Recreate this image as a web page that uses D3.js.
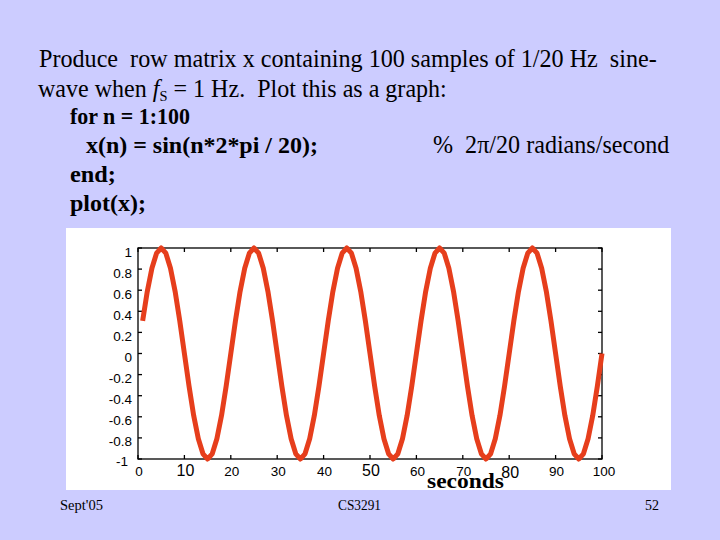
<!DOCTYPE html>
<html><head><meta charset="utf-8">
<script src="https://cdn.jsdelivr.net/npm/d3@7"></script>
<style>
html,body{margin:0;padding:0;background:#CCCCFF;}
svg{display:block;}
text{white-space:pre;}
</style></head>
<body>
<svg id="c" width="720" height="540"></svg>
<script>
// ---- data ----
const samples = d3.range(1, 101); // n = 1 .. 100
const xValues = [
 0.309, 0.588, 0.809, 0.951, 1.000, 0.951, 0.809, 0.588, 0.309, 0.000,
-0.309,-0.588,-0.809,-0.951,-1.000,-0.951,-0.809,-0.588,-0.309, 0.000,
 0.309, 0.588, 0.809, 0.951, 1.000, 0.951, 0.809, 0.588, 0.309, 0.000,
-0.309,-0.588,-0.809,-0.951,-1.000,-0.951,-0.809,-0.588,-0.309, 0.000,
 0.309, 0.588, 0.809, 0.951, 1.000, 0.951, 0.809, 0.588, 0.309, 0.000,
-0.309,-0.588,-0.809,-0.951,-1.000,-0.951,-0.809,-0.588,-0.309, 0.000,
 0.309, 0.588, 0.809, 0.951, 1.000, 0.951, 0.809, 0.588, 0.309, 0.000,
-0.309,-0.588,-0.809,-0.951,-1.000,-0.951,-0.809,-0.588,-0.309, 0.000,
 0.309, 0.588, 0.809, 0.951, 1.000, 0.951, 0.809, 0.588, 0.309, 0.000,
-0.309,-0.588,-0.809,-0.951,-1.000,-0.951,-0.809,-0.588,-0.309, 0.000
];
const xTicks = [0,10,20,30,40,50,60,70,80,90,100];
const xTickLabels = ["0","10","20","30","40","50","60","70","80","90","100"];
const yTicks = [1,0.8,0.6,0.4,0.2,0,-0.2,-0.4,-0.6,-0.8,-1];
const yTickLabels = ["1","0.8","0.6","0.4","0.2","0","-0.2","-0.4","-0.6","-0.8","-1"];
const bigXLabels = ["10","50","80"];

const svg = d3.select("#c");

// stretch a text horizontally so it spans [x0, x1]
function fit(sel, x0, x1) {
  const w = sel.node().getBBox().width;
  const s = (x1 - x0) / w;
  sel.attr("transform", `translate(${x0},0) scale(${s},1) translate(${-x0},0)`);
  return sel;
}

// ---- slide text ----
const serif = "'Liberation Serif','Times New Roman',serif";
const t = svg.append("g").attr("font-family", serif).attr("fill", "#000");
function line(txt, x0, x1, yb, bold, fs) {
  const s = t.append("text").attr("x", x0).attr("y", yb).attr("font-size", fs)
    .attr("font-weight", bold ? "bold" : "normal").text(txt);
  return fit(s, x0, x1);
}
line("Produce  row matrix x containing 100 samples of 1/20 Hz  sine-", 39, 657, 67, false, 25);
const l2 = t.append("text").attr("x", 38).attr("y", 97).attr("font-size", 25);
l2.append("tspan").text("wave when ");
l2.append("tspan").attr("font-style", "italic").text("f");
l2.append("tspan").attr("font-size", 15).attr("dy", 4).text("S");
l2.append("tspan").attr("dy", -4).text(" = 1 Hz.  Plot this as a graph:");
fit(l2, 38, 447);
line("for n = 1:100", 70, 190, 124.5, true, 24);
line("x(n) = sin(n*2*pi / 20);", 86, 318, 153, true, 24);
line("%  2\u03C0/20 radians/second", 433, 670, 153, false, 25);
line("end;", 70, 116, 182, true, 24);
line("plot(x);", 70, 146, 211, true, 24);

// footer
fit(t.append("text").attr("x", 60).attr("y", 510).attr("font-size", 15).text("Sept'05"), 60, 103);
fit(t.append("text").attr("x", 338).attr("y", 510).attr("font-size", 15).text("CS3291"), 338, 381);
fit(t.append("text").attr("x", 645).attr("y", 510).attr("font-size", 15).text("52"), 645, 659);

// ---- plot panel ----
svg.append("rect").attr("x", 66).attr("y", 228).attr("width", 605).attr("height", 262).attr("fill", "#fff");

const L = 138, R = 602, T = 248, B = 459;
const x = d3.scaleLinear().domain([0, 100]).range([L, R]);
const y = d3.scaleLinear().domain([-1, 1]).range([B, T]);

const sans = "'Liberation Sans',Arial,sans-serif";

// box + inward ticks
const ax = svg.append("g").attr("stroke", "#000").attr("stroke-width", 1.3);
ax.append("rect").attr("x", L).attr("y", T).attr("width", R - L).attr("height", B - T).attr("fill", "none");
ax.selectAll(".tb").data(xTicks).join("line")
  .attr("x1", d => x(d)).attr("x2", d => x(d)).attr("y1", B).attr("y2", B - 4);
ax.selectAll(".tt").data(xTicks).join("line")
  .attr("x1", d => x(d)).attr("x2", d => x(d)).attr("y1", T).attr("y2", T + 4);
ax.selectAll(".tl").data(yTicks).join("line")
  .attr("x1", L).attr("x2", L + 4).attr("y1", d => y(d)).attr("y2", d => y(d));
ax.selectAll(".tr").data(yTicks).join("line")
  .attr("x1", R).attr("x2", R - 4).attr("y1", d => y(d)).attr("y2", d => y(d));

// y tick labels
svg.append("g").attr("font-family", sans).attr("font-size", 13.5).attr("text-anchor", "end")
  .selectAll("text").data(yTicks).join("text")
  .attr("x", d => d === -1 ? L - 10 : L - 6)
  .attr("y", d => y(d) + (d === -1 ? 7 : 8.5))
  .text((d, i) => yTickLabels[i]);

// x tick labels
svg.append("g").attr("font-family", sans).attr("text-anchor", "middle")
  .selectAll("text").data(xTicks).join("text")
  .attr("x", d => x(d) + (d === 100 ? 2 : 1))
  .attr("y", (d, i) => xTickLabels[i] === "80" ? 478 : 476)
  .attr("font-size", (d, i) => bigXLabels.includes(xTickLabels[i]) ? 16 : 13.5)
  .text((d, i) => xTickLabels[i]);

// x axis title
fit(svg.append("text").attr("x", 427).attr("y", 488).attr("font-family", serif)
  .attr("font-size", 21).attr("font-weight", "bold").text("seconds"), 427, 504);

// ---- the line ----
const path = d3.line().x((d, i) => x(samples[i])).y(d => y(d));
svg.append("path").datum(xValues).attr("d", path)
  .attr("fill", "none").attr("stroke", "#E63E1C").attr("stroke-width", 5)
  .attr("stroke-linejoin", "round");
</script>
</body></html>
